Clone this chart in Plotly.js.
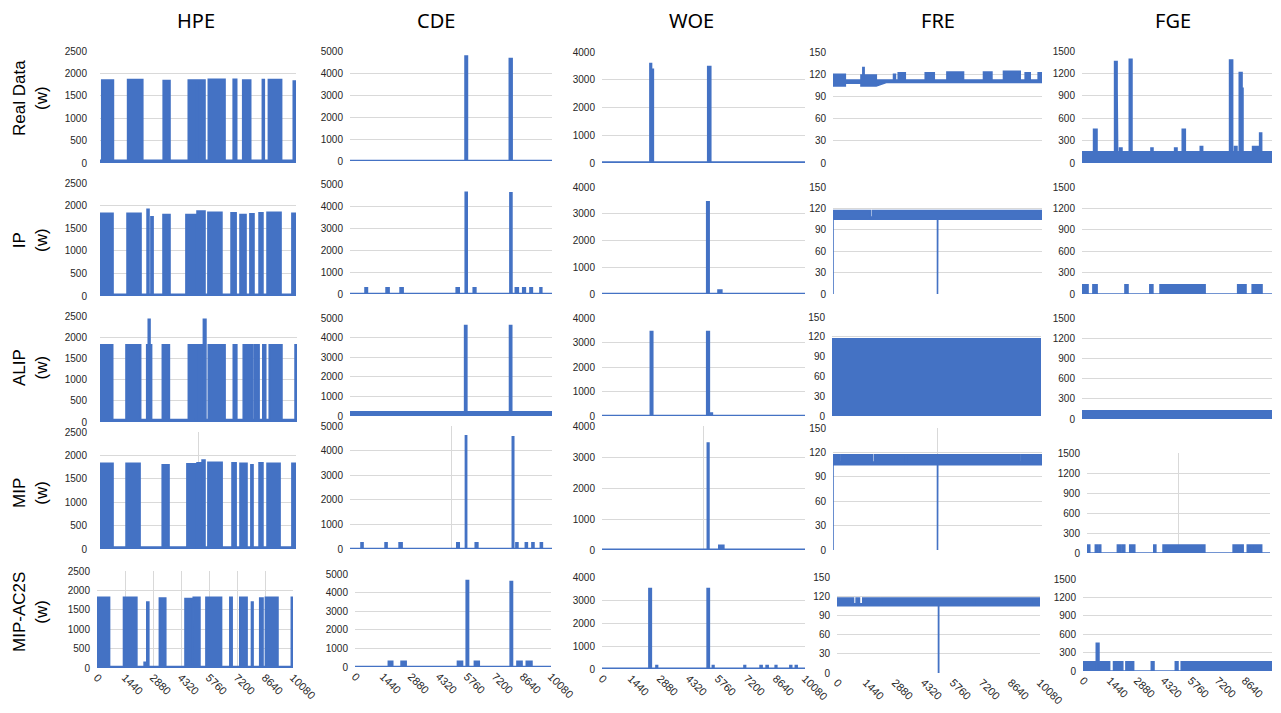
<!DOCTYPE html>
<html><head><meta charset="utf-8">
<script src="https://cdn.plot.ly/plotly-3.0.1.min.js"></script>
<style>html,body{margin:0;padding:0;background:#fff}#chart{width:1281px;height:713px}</style>
</head><body><div id="chart"></div>
<script>
// ---------------- DATA ----------------
const COLUMNS = ['HPE', 'CDE', 'WOE', 'FRE', 'FGE'];
const ROWS = ['Real Data', 'IP', 'ALIP', 'MIP', 'MIP-AC2S'];
const Y_MAX = [2500, 5000, 4000, 150, 1500];
const Y_STEP = [500, 1000, 1000, 30, 300];
const X_MAX = 10080;
const X_TICKS = [0, 1440, 2880, 4320, 5760, 7200, 8640, 10080];

// baseline level of each panel (rows: Real, IP, ALIP, MIP, MIP-AC2S)
const BASE_HPE = [60, 40, 60, 40, 40];
const BASE_CDE = [20, 20, 220, 20, 20];
const BASE_WOE = [30, 20, 20, 20, 30];
const BASE_FRE = [112, 117, 117, 117, 117];
const BASE_FGE = [150, 0, 120, 0, 0];

// blocks: [start minute, end minute, level]
const HPE_REAL = [[90,690,1850],[1420,2200,1860],[3250,3600,1840],[4540,4940,1850],[5000,5400,1850],[5570,6430,1870],[6850,7030,1870],[7340,7750,1850],[8350,8450,1860],[8660,9340,1860],[9940,10080,1830]];
const HPE_IP = [[0,670,1830],[1390,2110,1830],[2420,2520,1920],[2620,2730,1750],[3240,3600,1800],[4420,4940,1800],[4990,5400,1880],[5550,6270,1850],[6740,7000,1840],[7200,7510,1800],[7710,7920,1820],[8180,8380,1840],[8590,9310,1850],[9870,10080,1830]];
const HPE_ALIP = [[0,650,1820],[1330,2080,1820],[2390,2470,1820],[2470,2560,2420],[2560,2640,1820],[3190,3550,1820],[4520,4900,1820],[4950,5290,1820],[5290,5420,2420],[5540,6400,1820],[6820,7000,1820],[7330,7790,1820],[7880,8140,1820],[8330,8480,1820],[8660,9310,1820],[9980,10080,1820]];
const HPE_MIP = [[0,670,1830],[1340,2060,1830],[3200,3550,1800],[4470,4940,1820],[4990,5250,1840],[5250,5400,1900],[5550,6280,1850],[6790,7000,1840],[7200,7560,1830],[7760,7870,1800],[8180,8380,1840],[8590,9260,1830],[9870,10080,1830]];
const HPE_AC2S = [[0,646,1820],[1363,2050,1820],[2424,2562,150],[2562,2665,1700],[3208,3536,1800],[4525,4920,1790],[4950,5294,1820],[5602,6406,1820],[6832,6950,1820],[7344,7718,1820],[7944,8026,1700],[8369,8538,1800],[8661,9307,1820],[9994,10080,1820]];

const CDE_REAL = [[5740,5860,4770],[7950,8090,4660]];
const CDE_IP = [[750,870,280],[1800,1950,280],[2500,2650,280],[5300,5450,280],[5750,5850,4620],[6150,6280,280],[7980,8080,4600],[8250,8400,280],[8620,8750,280],[8980,9100,280],[9480,9570,280]];
const CDE_ALIP = [[5720,5830,4620],[7960,8070,4620]];
const CDE_MIP = [[550,650,250],[1750,1850,250],[2450,2600,250],[5330,5450,250],[5760,5820,4600],[6250,6380,250],[8100,8170,4560],[8280,8380,250],[8750,8850,250],[9080,9180,250],[9500,9600,250]];
const CDE_AC2S = [[1715,1940,300],[2370,2630,300],[5270,5530,300],[5720,5840,4650],[6140,6390,300],[7980,8100,4600],[8330,8590,300],[8810,9100,300]];

const WOE_REAL = [[2380,2460,3580],[2460,2550,3380],[5250,5400,3480]];
const WOE_IP = [[5200,5320,3450],[5760,5950,150]];
const WOE_ALIP = [[2400,2520,3450],[5200,5330,3450],[5400,5480,120]];
const WOE_MIP = [[5230,5310,3450],[5800,6050,150]];
const WOE_AC2S = [[2330,2450,3500],[2680,2760,150],[5220,5330,3500],[5480,5560,150],[7050,7130,150],[7850,7950,150],[8150,8250,150],[8600,8680,150],[9330,9420,150],[9600,9690,150]];

// FRE: upper envelope blocks + lower envelope points [minute, level]
const FRE_REAL = [[0,593,120],[1350,1440,119],[1440,1500,129],[1500,2087,119],[2920,3010,120],[3147,3485,122],[4449,4883,122],[5495,6295,123],[7259,7664,123],[8223,9027,124],[9269,9510,122],[9896,10080,122]];
const FRE_REAL_LOW = [[0,104],[593,104],[593,108],[1350,108],[1350,104],[2087,104],[2600,109],[10080,109]];
const FRE_IP = [[1800,1900,108],[2050,2100,108]];
const FRE_IP_LOW = [[0,0],[0,105],[5040,105],[5040,0],[5050,0],[5050,105],[10080,105]];
const FRE_ALIP = [];
const FRE_MIP = [[300,380,108],[1900,2000,108],[3500,3560,108],[9000,9080,108],[9500,9560,108],[9950,10000,108]];
const FRE_MIP_LOW = [[0,0],[0,105],[5040,105],[5040,0],[5050,0],[5050,105],[10080,105]];
const FRE_AC2S = [[820,950,108],[1115,1280,108],[2130,2210,108],[6780,6820,108],[9630,9670,108]];
const FRE_AC2S_LOW = [[0,105],[5040,105],[5040,0],[5050,0],[5050,105],[10080,105]];

const FGE_REAL = [[615,795,450],[1730,1860,1360],[1860,1890,1000],[1995,2120,200],[2510,2650,1390],[3660,3765,200],[4915,5040,200],[5320,5480,450],[6275,6400,220],[7830,7990,1380],[8095,8220,220],[8345,8490,1210],[8490,8540,1000],[9050,9160,220],[9245,9350,220],[9425,9530,400]];
const FGE_IP = [[0,320,130],[580,800,130],[2280,2440,130],[3600,3760,130],[4140,6530,130],[8260,8700,130],[9030,9550,130]];
const FGE_ALIP = [];
const FGE_MIP = [[0,150,120],[460,570,120],[660,755,120],[1675,1840,120],[1930,2080,120],[2355,2630,120],[3680,3790,120],[4190,6490,120],[8050,8600,120],[8830,9070,120],[9130,9620,120]];
const FGE_AC2S = [[0,710,150],[710,850,450],[850,1420,150],[1630,1860,150],[1940,2120,150],[2290,2700,150],[3645,3785,150],[4925,5065,150],[5240,10040,150]];

// ---------------- LAYOUT (pixels) ----------------
const W = 1281, H = 713;
// [left, right, top(max tick), bottom(0)] per row, per column
const BOXES = [
  [[100,296,51,163],[350,552,51,161],[602,805,52,163],[833,1042,52,163],[1082,1272,51,163]],
  [[100,296,183,296],[350,552,184,294],[602,805,187,294],[833,1042,187,294],[1082,1272,187,294]],
  [[100,297,316,422],[350,552,318,416],[602,805,318,416],[832,1041,317,416],[1082,1272,318,419]],
  [[100,296,432,549],[350,552,426,549],[602,805,426,550],[833,1042,428,550],[1087,1270,453,553]],
  [[97,293,571,668],[355,551,574,667],[602,805,577,669],[837,1040,577,673],[1083,1272,579,671]]
];
const COL_TITLE_X = [196, 436, 691, 938, 1173];
const ROW_LABEL_Y = [98, 240, 368, 493, 612];

const BLUE = '#4472C4';
const SERIES = [
  [HPE_REAL, CDE_REAL, WOE_REAL, FRE_REAL, FGE_REAL],
  [HPE_IP, CDE_IP, WOE_IP, FRE_IP, FGE_IP],
  [HPE_ALIP, CDE_ALIP, WOE_ALIP, FRE_ALIP, FGE_ALIP],
  [HPE_MIP, CDE_MIP, WOE_MIP, FRE_MIP, FGE_MIP],
  [HPE_AC2S, CDE_AC2S, WOE_AC2S, FRE_AC2S, FGE_AC2S]
];
const BASES = [BASE_HPE, BASE_CDE, BASE_WOE, BASE_FRE, BASE_FGE];
const LOWS = { '0-3': FRE_REAL_LOW, '1-3': FRE_IP_LOW, '3-3': FRE_MIP_LOW, '4-3': FRE_AC2S_LOW };

function blockPath(base, blocks) {
  const x = [0], y = [base];
  for (const [s, e, v] of blocks) { x.push(s, s, e, e); y.push(base, v, v, base); }
  x.push(X_MAX); y.push(base);
  return { x, y };
}

const traces = [];
const layout = {
  width: W, height: H, margin: { l: 0, r: 0, t: 0, b: 0 },
  paper_bgcolor: '#fff', plot_bgcolor: 'rgba(0,0,0,0)',
  showlegend: false, annotations: [],
  font: { family: 'Liberation Sans, Arial, sans-serif', color: '#262626' }
};

for (let r = 0; r < 5; r++) {
  for (let c = 0; c < 5; c++) {
    const i = r * 5 + c + 1;
    const xa = 'x' + (i === 1 ? '' : i), ya = 'y' + (i === 1 ? '' : i);
    const [L, R, T, B] = BOXES[r][c];
    const low = LOWS[r + '-' + c];
    if (low) {
      traces.push({ x: low.map(p => p[0]), y: low.map(p => p[1]), xaxis: xa, yaxis: ya,
        mode: 'lines', line: { color: BLUE, width: 1.6 }, hoverinfo: 'skip' });
    }
    const p = blockPath(BASES[c][r], SERIES[r][c]);
    traces.push({ x: p.x, y: p.y, xaxis: xa, yaxis: ya, mode: 'lines',
      line: { color: BLUE, width: 1.6 }, fill: low ? 'tonexty' : 'tozeroy', fillcolor: BLUE, hoverinfo: 'skip' });

    const yticks = [];
    for (let v = 0; v <= Y_MAX[c]; v += Y_STEP[c]) yticks.push(v);
    const isBottom = r === 4;
    let xgrid = false, xt = X_TICKS;
    if (r === 3) { xgrid = true; xt = [0, 5040, 10080]; }
    if (r === 4 && c === 0) { xgrid = true; }
    layout['xaxis' + (i === 1 ? '' : i)] = {
      domain: [L / W, R / W], anchor: ya, range: [0, X_MAX],
      tickmode: 'array', tickvals: xt, ticktext: xt.map(String),
      showticklabels: isBottom, tickangle: 45, tickfont: { size: 11, color: '#262626' },
      showgrid: xgrid, gridcolor: '#d9d9d9', zeroline: false, showline: false, ticks: '', fixedrange: true
    };
    layout['yaxis' + (i === 1 ? '' : i)] = {
      domain: [1 - B / H, 1 - T / H], anchor: xa, range: [0, Y_MAX[c]],
      tickmode: 'array', tickvals: yticks, ticktext: yticks.map(String),
      tickfont: { size: 10, color: '#262626' }, ticklabelstandoff: (c === 0 && r < 4) ? 12 : 6,
      showgrid: true, gridcolor: '#d9d9d9', gridwidth: 1, zeroline: false, showline: false, ticks: '', fixedrange: true
    };
  }
}

COLUMNS.forEach((t, c) => layout.annotations.push({
  text: t, xref: 'paper', yref: 'paper', x: COL_TITLE_X[c] / W, y: 1 - 20 / H,
  xanchor: 'center', yanchor: 'middle', showarrow: false,
  font: { size: 20, family: 'Noto Sans, Liberation Sans, sans-serif', color: '#000' }
}));
ROWS.forEach((t, r) => layout.annotations.push({
  text: t + '<br>(w)', xref: 'paper', yref: 'paper', x: 30 / W, y: 1 - ROW_LABEL_Y[r] / H,
  xanchor: 'center', yanchor: 'middle', showarrow: false, textangle: -90,
  font: { size: 17, family: 'Liberation Sans, Arial, sans-serif', color: '#000' }
}));

Plotly.newPlot('chart', traces, layout, { staticPlot: true, displayModeBar: false });
</script></body></html>
